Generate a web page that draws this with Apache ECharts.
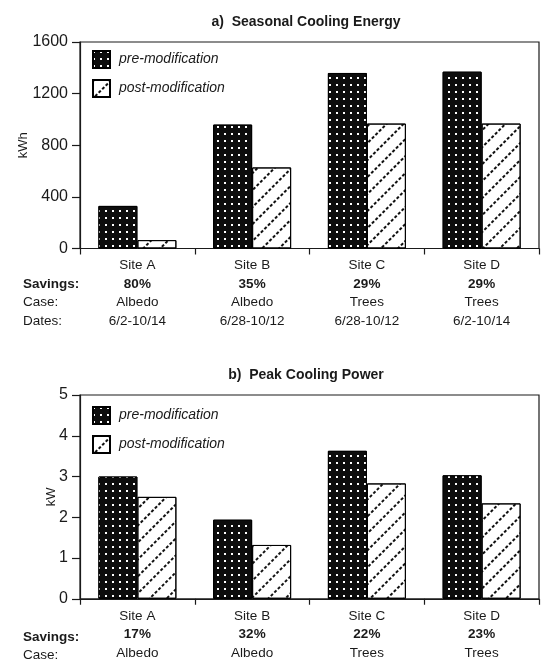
<!DOCTYPE html>
<html>
<head>
<meta charset="utf-8">
<script src="https://cdn.jsdelivr.net/npm/echarts@6/dist/echarts.min.js"></script>
<style>
html,body{margin:0;padding:0;background:#fff;}
#chart{width:541px;height:660px;}
</style>
</head>
<body>
<div id="chart"></div>
<script>
// ---- data ----
var sites = ['Site A', 'Site B', 'Site C', 'Site D'];
var seriesNames = ['pre-modification', 'post-modification'];

var energyTitle = 'a)  Seasonal Cooling Energy';
var energyUnit = 'kWh';
var energyPre = [330, 960, 1360, 1370];
var energyPost = [65, 628, 968, 968];
var energySavings = ['80%', '35%', '29%', '29%'];
var energyCase = ['Albedo', 'Albedo', 'Trees', 'Trees'];
var energyDates = ['6/2-10/14', '6/28-10/12', '6/28-10/12', '6/2-10/14'];
var energyTicks = {min: 0, max: 1600, interval: 400};

var powerTitle = 'b)  Peak Cooling Power';
var powerUnit = 'kW';
var powerPre = [3.0, 1.94, 3.63, 3.03];
var powerPost = [2.5, 1.32, 2.83, 2.34];
var powerSavings = ['17%', '32%', '22%', '23%'];
var powerCase = ['Albedo', 'Albedo', 'Trees', 'Trees'];
var powerTicks = {min: 0, max: 5, interval: 1};

var rowLabelsEnergy = ['Savings:', 'Case:', 'Dates:'];
var rowLabelsPower = ['Savings:', 'Case:'];

// ---- styling ----
var FONT = 'Liberation Sans, Arial, Helvetica, sans-serif';
var INK = '#1a1a1a';

var dotDecal = {
  symbol: 'rect',
  symbolSize: 1,
  color: '#ffffff',
  dashArrayX: [[2, 4.6]],
  dashArrayY: [2, 4.3],
  rotation: 0
};
var hatchDecal = {
  symbol: 'rect',
  symbolSize: 1,
  color: '#111111',
  dashArrayX: [[3, 1.5]],
  dashArrayY: [1.4, 9.5],
  rotation: -Math.PI / 4
};

function preStyle() {
  return {color: '#0d0d0d', borderColor: '#000', borderWidth: 1, decal: dotDecal};
}
function postStyle() {
  return {color: '#ffffff', borderColor: '#000', borderWidth: 1, decal: hatchDecal};
}

function labelFormatter(savings, cases, dates) {
  return function (value, idx) {
    var s = '{s|' + value + '}\n{b|' + savings[idx] + '}\n{n|' + cases[idx] + '}';
    if (dates) s += '\n{n|' + dates[idx] + '}';
    return s;
  };
}
var rich = {
  s: {fontSize: 13.5, fontFamily: FONT, color: INK, lineHeight: 18.5},
  b: {fontSize: 13.5, fontFamily: FONT, color: INK, fontWeight: 'bold', lineHeight: 18.5},
  n: {fontSize: 13.5, fontFamily: FONT, color: INK, lineHeight: 18.5}
};

function makeX(gridIndex, savings, cases, dates, margin) {
  return {
    type: 'category', gridIndex: gridIndex, data: sites,
    axisLine: {lineStyle: {color: INK, width: 1.2}},
    axisTick: {show: true, length: 6, lineStyle: {color: INK, width: 1.2}},
    axisLabel: {margin: margin, formatter: labelFormatter(savings, cases, dates), rich: rich, color: INK}
  };
}
function makeY(gridIndex, ticks, unit, gap) {
  return {
    type: 'value', gridIndex: gridIndex, min: ticks.min, max: ticks.max, interval: ticks.interval,
    name: unit, nameLocation: 'middle', nameGap: gap, nameRotate: 90, nameMoveOverlap: false,
    nameTextStyle: {fontFamily: FONT, fontSize: 13, color: INK},
    axisLine: {show: true, lineStyle: {color: INK, width: 1.2}},
    axisTick: {show: true, length: 8, lineStyle: {color: INK, width: 1.2}},
    axisLabel: {fontFamily: FONT, fontSize: 16, color: INK, margin: 12,
      formatter: function (v) { return String(v); }},
    splitLine: {show: false}
  };
}

var graphics = [];
rowLabelsEnergy.forEach(function (t, i) {
  graphics.push({type: 'text', left: 23, top: 277 + i * 18.5,
    style: {text: t, font: (i === 0 ? 'bold ' : '') + '13.5px ' + FONT, fill: INK}});
});
rowLabelsPower.forEach(function (t, i) {
  graphics.push({type: 'text', left: 23, top: 630 + i * 18.5,
    style: {text: t, font: (i === 0 ? 'bold ' : '') + '13.5px ' + FONT, fill: INK}});
});

var legendCommon = {
  orient: 'vertical', itemWidth: 17, itemHeight: 17, itemGap: 10, padding: 0,
  icon: 'rect', selectedMode: false,
  textStyle: {fontFamily: FONT, fontSize: 14, fontStyle: 'italic', color: INK, padding: [0, 0, 0, 4]},
  data: seriesNames
};

var option = {
  backgroundColor: '#ffffff',
  animation: false,
  title: [
    {text: energyTitle, left: 306, top: 15, textAlign: 'center', padding: 0,
      textStyle: {fontFamily: FONT, fontSize: 14, fontWeight: 'bold', color: INK}},
    {text: powerTitle, left: 306, top: 368, textAlign: 'center', padding: 0,
      textStyle: {fontFamily: FONT, fontSize: 14, fontWeight: 'bold', color: INK}}
  ],
  legend: [
    Object.assign({left: 92, top: 50}, legendCommon),
    Object.assign({left: 92, top: 406}, legendCommon)
  ],
  grid: [
    {left: 80, width: 459, top: 42, height: 206.5, show: true, borderColor: INK, borderWidth: 1.2, backgroundColor: 'transparent'},
    {left: 80, width: 459, top: 395, height: 207.5, show: true, borderColor: INK, borderWidth: 1.2, backgroundColor: 'transparent'}
  ],
  xAxis: [
    makeX(0, energySavings, energyCase, energyDates, 8),
    makeX(1, powerSavings, powerCase, null, 8)
  ],
  yAxis: [
    makeY(0, energyTicks, energyUnit, 50),
    makeY(1, powerTicks, powerUnit, 22)
  ],
  graphic: graphics,
  series: [
    {name: seriesNames[0], type: 'bar', xAxisIndex: 0, yAxisIndex: 0, data: energyPre, barWidth: 39, barGap: '0%', itemStyle: preStyle()},
    {name: seriesNames[1], type: 'bar', xAxisIndex: 0, yAxisIndex: 0, data: energyPost, barWidth: 39, barGap: '0%', itemStyle: postStyle()},
    {name: seriesNames[0], type: 'bar', xAxisIndex: 1, yAxisIndex: 1, data: powerPre, barWidth: 39, barGap: '0%', itemStyle: preStyle()},
    {name: seriesNames[1], type: 'bar', xAxisIndex: 1, yAxisIndex: 1, data: powerPost, barWidth: 39, barGap: '0%', itemStyle: postStyle()}
  ]
};

var chart = echarts.init(document.getElementById('chart'), null, {renderer: 'canvas'});
chart.setOption(option);
</script>
</body>
</html>
